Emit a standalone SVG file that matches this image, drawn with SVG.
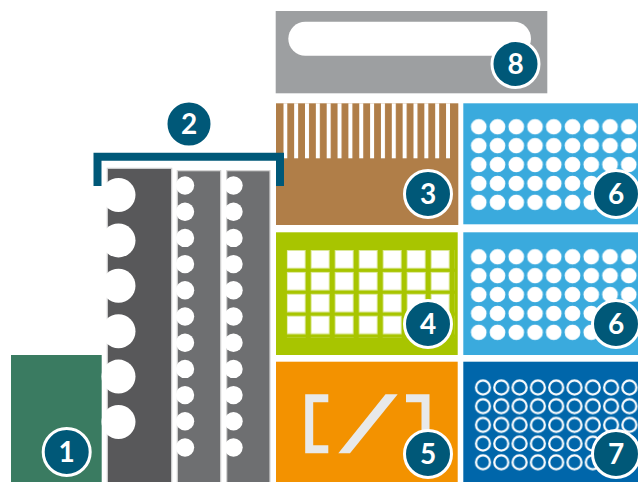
<svg xmlns="http://www.w3.org/2000/svg" width="638" height="482" viewBox="0 0 638 482">
<style>
.badge circle{fill:#005878;stroke:#fff;stroke-width:3}
.badge text{font-family:Lato,"Liberation Sans",sans-serif;font-weight:700;font-size:28px;fill:#fff;text-anchor:middle}
.col{stroke:#d4d4d4;stroke-width:1.2}
.hole{fill:#fff}
.icon{fill:none;stroke:#e8e9e9;stroke-width:8}
</style>
<defs>
<pattern id="stripes" patternUnits="userSpaceOnUse" x="283.3" y="0" width="10.85" height="200"><rect x="0" y="0" width="4" height="200" fill="#fff"/></pattern>
<pattern id="squares" patternUnits="userSpaceOnUse" x="286.7" y="250" width="24" height="21.9"><rect x="0.4" y="0.4" width="18.2" height="17.7" fill="#fff" stroke="#dbe89a" stroke-width="0.8"/></pattern>
<pattern id="dots1" patternUnits="userSpaceOnUse" x="469.4" y="117.3" width="18.75" height="18.9"><circle cx="9.375" cy="9.45" r="7.8" fill="#fff"/></pattern>
<pattern id="dots2" patternUnits="userSpaceOnUse" x="469.4" y="247.3" width="18.75" height="18.9"><circle cx="9.375" cy="9.45" r="7.8" fill="#fff"/></pattern>
<pattern id="rings" patternUnits="userSpaceOnUse" x="473.85" y="378.15" width="18.3" height="18.7"><circle cx="9.15" cy="9.35" r="7" fill="none" stroke="#fff" stroke-width="2.2"/></pattern>
</defs>

<g id="node1">
<rect x="11" y="355" width="90.7" height="130" fill="#3a7b61"/>
<g class="badge"><circle cx="66.7" cy="452" r="23.5"/><text x="66.7" y="462">1</text></g>
</g>

<g id="node8">
<rect x="275.7" y="11" width="271.6" height="82.3" fill="#9d9fa1"/>
<rect x="288.3" y="21.7" width="242.7" height="34" rx="17" fill="#fff"/>
<g class="badge"><circle cx="515.5" cy="64" r="23.5"/><text x="515.5" y="74">8</text></g>
</g>

<g id="node3">
<rect x="276" y="103.3" width="182.3" height="121.7" fill="#b07e48"/>
<rect x="283.3" y="103.3" width="166.8" height="55" fill="url(#stripes)"/>
<g class="badge"><circle cx="428" cy="194" r="23.5"/><text x="428" y="204">3</text></g>
</g>

<g id="node2">
<rect class="col" x="107.3" y="168.3" width="64.4" height="320" fill="#58585a"/>
<g class="hole">
<circle cx="118.5" cy="195" r="17"/><circle cx="118.5" cy="240.4" r="17"/><circle cx="118.5" cy="285.8" r="17"/><circle cx="118.5" cy="331.2" r="17"/><circle cx="118.5" cy="376.6" r="17"/><circle cx="118.5" cy="422" r="17"/>
</g>
<rect class="col" x="177.3" y="170.7" width="43.4" height="320" fill="#6e6f71"/>
<rect class="col" x="226.7" y="170.7" width="43.3" height="320" fill="#6e6f71"/>
<g class="hole">
<circle cx="185" cy="185.5" r="9.2"/><circle cx="185" cy="211.7" r="9.2"/><circle cx="185" cy="237.9" r="9.2"/><circle cx="185" cy="264.1" r="9.2"/><circle cx="185" cy="290.3" r="9.2"/><circle cx="185" cy="316.5" r="9.2"/><circle cx="185" cy="342.7" r="9.2"/><circle cx="185" cy="368.9" r="9.2"/><circle cx="185" cy="395.1" r="9.2"/><circle cx="185" cy="421.3" r="9.2"/><circle cx="185" cy="447.5" r="9.2"/>
<circle cx="233.5" cy="185.5" r="9.2"/><circle cx="233.5" cy="211.7" r="9.2"/><circle cx="233.5" cy="237.9" r="9.2"/><circle cx="233.5" cy="264.1" r="9.2"/><circle cx="233.5" cy="290.3" r="9.2"/><circle cx="233.5" cy="316.5" r="9.2"/><circle cx="233.5" cy="342.7" r="9.2"/><circle cx="233.5" cy="368.9" r="9.2"/><circle cx="233.5" cy="395.1" r="9.2"/><circle cx="233.5" cy="421.3" r="9.2"/><circle cx="233.5" cy="447.5" r="9.2"/>
</g>
<path d="M97.5 186 V156.7 H280 V186" fill="none" stroke="#005878" stroke-width="8"/>
<g class="badge"><circle cx="189" cy="124" r="23" stroke="none"/><text x="189" y="134">2</text></g>
</g>

<g id="node4">
<rect x="276" y="232.3" width="181.7" height="122.7" fill="#a8c500"/>
<rect x="286.7" y="250" width="168" height="87.6" fill="url(#squares)"/>
<g class="badge"><circle cx="428" cy="324" r="23.5"/><text x="428" y="334">4</text></g>
</g>

<g id="node5">
<rect x="276" y="361.7" width="181.7" height="125" fill="#f39200"/>
<path class="icon" d="M328.3 398.3 H309.2 V449.3 H328.3"/>
<path class="icon" d="M406 398.3 H425.5 V449.3 H406"/>
<polygon points="338.3,453.3 350,453.3 397.7,394.3 385.5,394.3" fill="#e8e9e9"/>
<g class="badge"><circle cx="428" cy="454" r="23.5"/><text x="428" y="464">5</text></g>
</g>

<g id="node6a">
<rect x="463.3" y="103.3" width="182" height="121" fill="#3aaadd"/>
<rect x="469.4" y="117.3" width="168.75" height="94.5" fill="url(#dots1)"/>
<g class="badge"><circle cx="616" cy="194" r="23.5"/><text x="616" y="204">6</text></g>
</g>

<g id="node6b">
<rect x="463.3" y="232.3" width="182" height="122.7" fill="#3aaadd"/>
<rect x="469.4" y="247.3" width="168.75" height="94.5" fill="url(#dots2)"/>
<g class="badge"><circle cx="616" cy="324" r="23.5"/><text x="616" y="334">6</text></g>
</g>

<g id="node7">
<rect x="463.3" y="361.7" width="182" height="125" fill="#0066aa"/>
<rect x="473.85" y="378.15" width="164.7" height="93.5" fill="url(#rings)"/>
<g class="badge"><circle cx="616" cy="454" r="23.5"/><text x="616" y="464">7</text></g>
</g>

<g id="connectors"></g>
</svg>
